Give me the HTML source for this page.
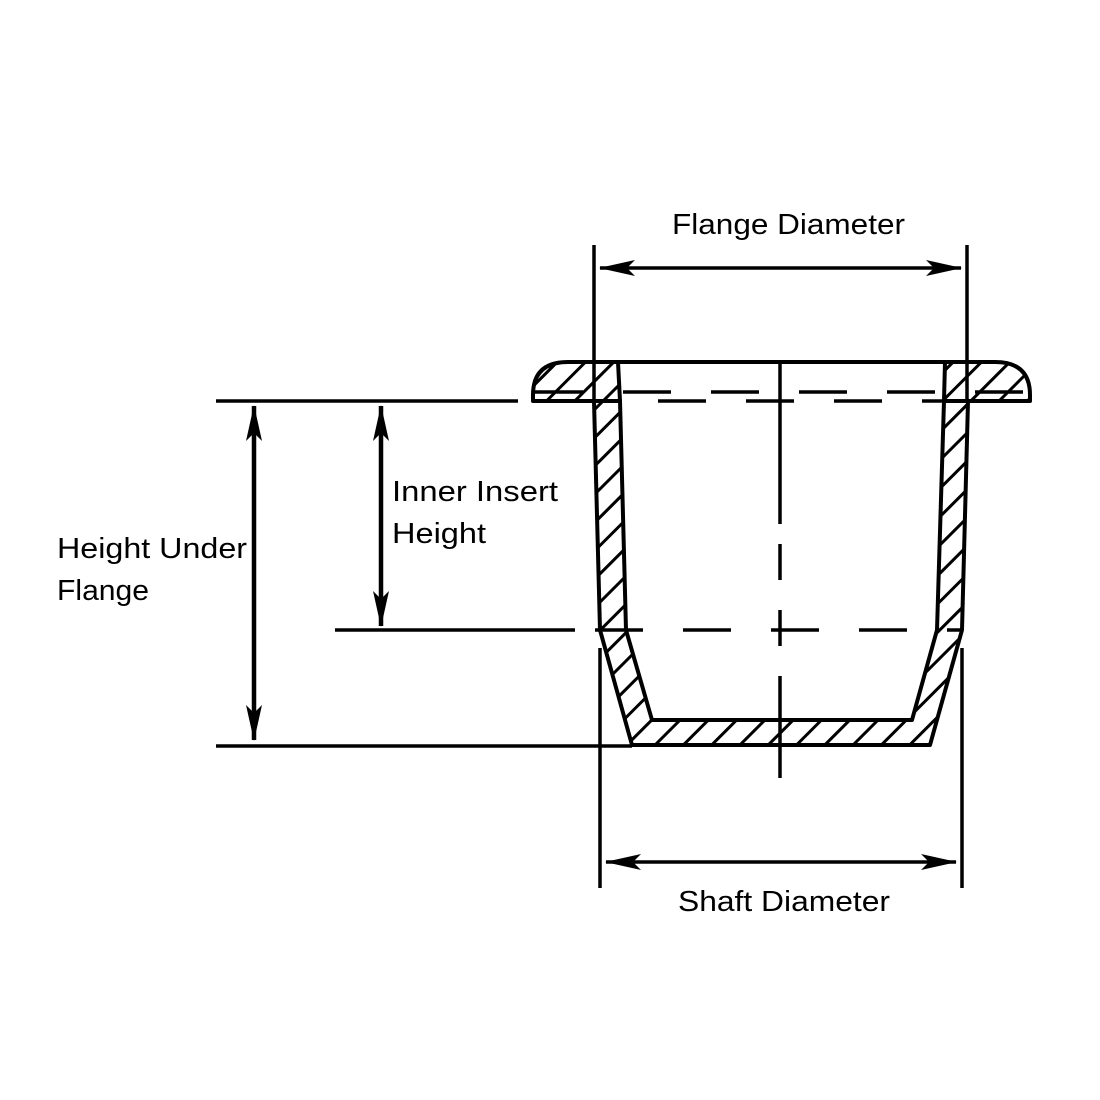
<!DOCTYPE html>
<html><head><style>html,body{margin:0;padding:0;background:#fff}svg{display:block}</style></head>
<body>
<svg width="1100" height="1100" viewBox="0 0 1100 1100" xmlns="http://www.w3.org/2000/svg">
<defs>
<pattern id="h" patternUnits="userSpaceOnUse" width="20" height="20" patternTransform="rotate(-45)">
<line x1="0" y1="10" x2="20" y2="10" stroke="#000" stroke-width="3"/>
</pattern>
<marker id="a" viewBox="0 0 36 16" refX="35" refY="8" markerWidth="36" markerHeight="16" markerUnits="userSpaceOnUse" orient="auto-start-reverse">
<path d="M0,0 L36,8 L0,16 L8,8 Z" fill="#000"/>
</marker>
</defs>
<rect width="1100" height="1100" fill="#fff"/>
<g fill="url(#h)" stroke="#000" stroke-width="4" stroke-linejoin="round">
<path d="M533,401 L533,395 Q533,362 568,362 L618,362 L620,401 Z"/>
<path d="M945,362 L995,362 Q1030,362 1030,395 L1030,401 L944,401 Z"/>
<path d="M594,401 L620,401 L626,630 L652,720 L912,720 L937,630 L944,401 L968,401 L962,630 L930,745 L632,745 L600,630 Z"/>
</g>
<line x1="618" y1="362" x2="945" y2="362" stroke="#000" stroke-width="4"/>
<g stroke="#000" stroke-width="3.5" fill="none">
<line x1="535" y1="392" x2="1028" y2="392" stroke-dasharray="48,40"/>
<line x1="540" y1="401" x2="1028" y2="401" stroke-dasharray="48,40" stroke-dashoffset="-30"/>
<line x1="335" y1="630" x2="962" y2="630" stroke-dasharray="240,20,48,40,48,40,48,40,48,40,48,40"/>
<line x1="780" y1="362" x2="780" y2="778" stroke-dasharray="162,20,36,30,36,30,200"/>
<line x1="594" y1="245" x2="594" y2="401"/>
<line x1="967" y1="245" x2="967" y2="401"/>
<line x1="600" y1="648" x2="600" y2="888"/>
<line x1="962" y1="648" x2="962" y2="888"/>
<line x1="216" y1="401" x2="518" y2="401"/>
<line x1="216" y1="746" x2="632" y2="746"/>
<line x1="600" y1="268" x2="961" y2="268" marker-start="url(#a)" marker-end="url(#a)"/>
<line x1="606" y1="862" x2="956" y2="862" marker-start="url(#a)" marker-end="url(#a)"/>
<line x1="254" y1="406" x2="254" y2="740" marker-start="url(#a)" marker-end="url(#a)" stroke-width="4.5"/>
<line x1="381" y1="406" x2="381" y2="626" marker-start="url(#a)" marker-end="url(#a)" stroke-width="4.5"/>
</g>
<g font-family="Liberation Sans, sans-serif" font-size="29" fill="#000">
<text x="672" y="234" textLength="233" lengthAdjust="spacingAndGlyphs">Flange Diameter</text>
<text x="678" y="911" textLength="212" lengthAdjust="spacingAndGlyphs">Shaft Diameter</text>
<text x="392" y="501" textLength="166" lengthAdjust="spacingAndGlyphs">Inner Insert</text>
<text x="392" y="543" textLength="94" lengthAdjust="spacingAndGlyphs">Height</text>
<text x="57" y="558" textLength="190" lengthAdjust="spacingAndGlyphs">Height Under</text>
<text x="57" y="600" textLength="92" lengthAdjust="spacingAndGlyphs">Flange</text>
</g>
</svg>
</body></html>
